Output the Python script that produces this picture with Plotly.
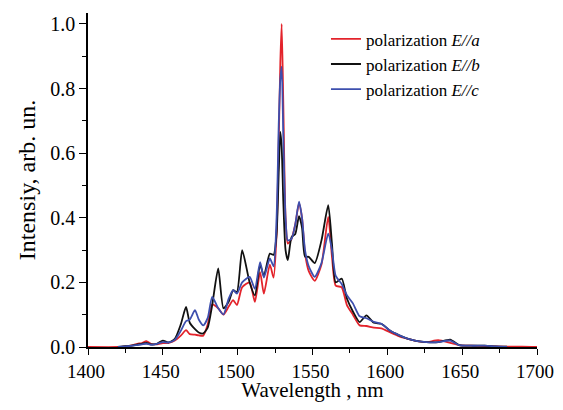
import plotly.graph_objects as go

wavelength = [1400, 1420, 1425, 1430, 1433, 1436, 1439, 1442, 1446, 1450, 1454, 1458, 1462,
              1465.5, 1468, 1471.5, 1474, 1477, 1480, 1483, 1487, 1490.5, 1494, 1497, 1499.5,
              1503, 1508, 1511.5, 1515, 1517.5, 1521.5, 1524, 1526, 1527.5, 1528.5, 1529.4,
              1530.5, 1532, 1533.5, 1536, 1538.5, 1541, 1543, 1545, 1547.5, 1551.5, 1556,
              1560.5, 1563, 1565.5, 1569.5, 1573, 1577, 1581.5, 1586, 1591, 1596, 1602, 1608,
              1614, 1620, 1626, 1634, 1642, 1648, 1656, 1665, 1672, 1680, 1690, 1700]

pol_a = [0, 0, 0.002, 0.006, 0.010, 0.012, 0.018, 0.010, 0.008, 0.012, 0.013, 0.020, 0.035,
         0.052, 0.040, 0.038, 0.036, 0.035, 0.070, 0.132, 0.120, 0.100, 0.125, 0.145, 0.130,
         0.185, 0.200, 0.140, 0.232, 0.165, 0.255, 0.215, 0.350, 0.650, 0.880, 1.000,
         0.750, 0.400, 0.320, 0.335, 0.380, 0.445, 0.400, 0.290, 0.235, 0.205, 0.255,
         0.403, 0.280, 0.190, 0.185, 0.130, 0.100, 0.067, 0.065, 0.060, 0.058, 0.045, 0.033,
         0.025, 0.018, 0.015, 0.021, 0.013, 0.006, 0.004, 0.003, 0.002, 0.001, 0.001, 0.0]

pol_b = [None, 0, 0.003, 0.005, 0.008, 0.010, 0.013, 0.008, 0.010, 0.020, 0.014, 0.025, 0.070,
         0.124, 0.075, 0.055, 0.045, 0.042, 0.060, 0.130, 0.243, 0.120, 0.140, 0.176, 0.170,
         0.300, 0.200, 0.160, 0.255, 0.220, 0.289, 0.285, 0.350, 0.550, 0.666, 0.620,
         0.450, 0.300, 0.269, 0.340, 0.350, 0.405, 0.370, 0.280, 0.279, 0.260, 0.330,
         0.439, 0.320, 0.200, 0.212, 0.150, 0.110, 0.077, 0.098, 0.075, 0.072, 0.050, 0.036,
         0.025, 0.018, 0.015, 0.015, 0.023, 0.006, 0.004, 0.004, 0.002, 0.001, None, None]

pol_c = [None, 0, 0.002, 0.004, 0.006, 0.008, 0.010, 0.007, 0.010, 0.015, 0.014, 0.022, 0.050,
         0.080, 0.085, 0.114, 0.085, 0.067, 0.090, 0.155, 0.120, 0.101, 0.150, 0.176, 0.165,
         0.200, 0.217, 0.180, 0.263, 0.215, 0.274, 0.250, 0.400, 0.700, 0.830, 0.868,
         0.650, 0.400, 0.330, 0.335, 0.380, 0.450, 0.400, 0.300, 0.250, 0.217, 0.260,
         0.351, 0.300, 0.220, 0.195, 0.160, 0.135, 0.095, 0.089, 0.078, 0.072, 0.050, 0.036,
         0.025, 0.018, 0.015, 0.015, 0.020, 0.006, 0.004, 0.004, 0.002, 0.0, None, None]

series_names = ["polarization <i>E//a</i>", "polarization <i>E//b</i>", "polarization <i>E//c</i>"]
series_colors = ["#e3232b", "#111111", "#3d4fae"]

fig = go.Figure()
for name, vals, col in zip(series_names, [pol_a, pol_b, pol_c], series_colors):
    fig.add_trace(go.Scatter(
        x=wavelength, y=vals, name=name, mode="lines",
        line=dict(color=col, width=1.8, shape="spline", smoothing=0.6),
        connectgaps=False,
    ))

font_family = "Liberation Serif, Times New Roman, serif"

# the page adds an 8px body margin on every side, so the figure is kept inside the window
fig.update_layout(
    width=547, height=394,
    margin=dict(l=80, r=18, t=5, b=55),
    paper_bgcolor="white", plot_bgcolor="white",
    font=dict(family=font_family, color="black"),
    showlegend=True,
    legend=dict(
        x=0.53, y=0.975, xanchor="left", yanchor="top",
        font=dict(family=font_family, size=17, color="black"),
        bgcolor="rgba(0,0,0,0)", borderwidth=0,
        tracegroupgap=0,
    ),
)

fig.update_xaxes(
    range=[1400, 1700], tickmode="array",
    tickvals=[1400, 1450, 1500, 1550, 1600, 1650, 1700],
    ticks="outside", ticklen=6, tickwidth=1.3, tickcolor="black",
    showline=True, linecolor="black", linewidth=1.5,
    showgrid=False, zeroline=False, automargin=False,
    ticklabeloverflow="allow", ticklabelshift=-2,
    minor=dict(tickvals=[1425, 1475, 1525, 1575, 1625, 1675], ticks="outside", ticklen=4,
               tickcolor="black", tickwidth=1.3, showgrid=False),
    tickfont=dict(family=font_family, size=19, color="black"),
    title=dict(text="Wavelength , nm", font=dict(family=font_family, size=21, color="black"),
               standoff=12),
)

fig.update_yaxes(
    range=[0, 1.034], tickmode="array",
    tickvals=[0, 0.2, 0.4, 0.6, 0.8, 1.0], ticktext=["0.0", "0.2", "0.4", "0.6", "0.8", "1.0"],
    ticks="outside", ticklen=7, tickwidth=1.3, tickcolor="black",
    showline=True, linecolor="black", linewidth=1.5,
    showgrid=False, zeroline=False, automargin=False,
    minor=dict(tickvals=[0.1, 0.3, 0.5, 0.7, 0.9], ticks="outside", ticklen=4,
               tickcolor="black", tickwidth=1.3, showgrid=False),
    tickfont=dict(family=font_family, size=20, color="black"),
    title=dict(text="Intensiy, arb. un.", font=dict(family=font_family, size=24, color="black"),
               standoff=8),
)

fig.write_html("out.html")
